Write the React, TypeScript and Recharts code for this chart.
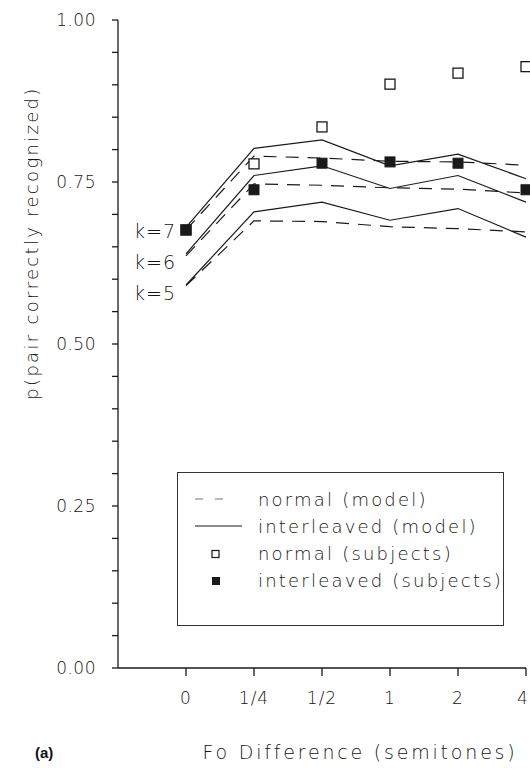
import { LineChart, Line, XAxis, YAxis, LabelList } from 'recharts';

// Fo difference categories (semitones), plotted at evenly spaced positions
const categories = ['0', '1/4', '1/2', '1', '2', '4'];

// subjects' data
const normalSubjects = [0.676, 0.778, 0.835, 0.901, 0.918, 0.928];
const interleavedSubjects = [0.676, 0.738, 0.779, 0.781, 0.779, 0.738];

// model predictions, interleaved (solid)
const interleavedK7 = [0.68, 0.802, 0.815, 0.775, 0.793, 0.755];
const interleavedK6 = [0.639, 0.76, 0.775, 0.74, 0.76, 0.719];
const interleavedK5 = [0.591, 0.704, 0.719, 0.691, 0.709, 0.665];

// model predictions, normal (dashed)
const normalK7 = [0.676, 0.79, 0.787, 0.782, 0.781, 0.776];
const normalK6 = [0.636, 0.747, 0.745, 0.741, 0.739, 0.733];
const normalK5 = [0.59, 0.69, 0.689, 0.681, 0.678, 0.673];

const yTicks = [0, 0.05, 0.1, 0.15, 0.2, 0.25, 0.3, 0.35, 0.4, 0.45, 0.5, 0.55, 0.6, 0.65, 0.7, 0.75, 0.8, 0.85, 0.9, 0.95, 1];
const yLabelTicks = [0, 0.25, 0.5, 0.75, 1];

const data = categories.map((c, i) => ({
  x: i,
  normS: normalSubjects[i],
  intS: interleavedSubjects[i],
  iK7: interleavedK7[i],
  iK6: interleavedK6[i],
  iK5: interleavedK5[i],
  nK7: normalK7[i],
  nK6: normalK6[i],
  nK5: normalK5[i],
}));

const FONT = '"DejaVu Sans", sans-serif';
const INK = '#1a1a1a';
const TEXT = '#151515';

function YTick(props: any) {
  const { x, y, payload } = props;
  const v = payload.value;
  if (!yLabelTicks.some((t) => Math.abs(t - v) < 1e-6)) return null;
  return (
    <text x={x - 14} y={y} textAnchor="end" dominantBaseline="central"
      fontFamily={FONT} fontWeight={300} fontSize={17} fill={TEXT} letterSpacing={0.5}>
      {v.toFixed(2)}
    </text>
  );
}

function XTick(props: any) {
  const { x, y, payload } = props;
  // last label sits against the right edge, nudge it in a little
  const last = payload.value === categories.length - 1;
  return (
    <text x={last ? x - 3 : x} y={y + 20} textAnchor="middle" dominantBaseline="central"
      fontFamily={FONT} fontWeight={300} fontSize={17} fill={TEXT} letterSpacing={1}>
      {categories[payload.value]}
    </text>
  );
}

const openSquare = (p: any) => (
  <rect x={p.cx - 5} y={p.cy - 5} width={10} height={10} fill="#fff" stroke={INK} strokeWidth={1.3} />
);
const filledSquare = (p: any) => (
  <rect x={p.cx - 5} y={p.cy - 5} width={10} height={10} fill={INK} stroke={INK} strokeWidth={1} />
);

const kLabel = (text: string, dy: number) => (p: any) =>
  p.index === 0 ? (
    <text x={p.x - 10} y={p.y + dy} textAnchor="end" dominantBaseline="central"
      fontFamily={FONT} fontWeight={300} fontSize={19} fill={TEXT} letterSpacing={1}>
      {text}
    </text>
  ) : null;

const legendRows = [
  { label: 'normal (model)', kind: 'dash' },
  { label: 'interleaved (model)', kind: 'solid' },
  { label: 'normal (subjects)', kind: 'open' },
  { label: 'interleaved (subjects)', kind: 'filled' },
];

function LegendSymbol({ kind }: { kind: string }) {
  return (
    <svg width={50} height={14} style={{ display: 'block' }}>
      {kind === 'dash' && (
        <line x1={0} y1={7} x2={34} y2={7} stroke="#777" strokeWidth={1.2} strokeDasharray="8 12" />
      )}
      {kind === 'solid' && <line x1={0} y1={7} x2={47} y2={7} stroke={INK} strokeWidth={1.2} />}
      {kind === 'open' && <rect x={17} y={3.5} width={7} height={7} fill="#fff" stroke={INK} strokeWidth={1.2} />}
      {kind === 'filled' && <rect x={17} y={3} width={8} height={8} fill={INK} />}
    </svg>
  );
}

export default function App() {
  return (
    <div style={{ position: 'absolute', left: 0, top: 0, width: 530, height: 769, background: '#fff' }}>
      <LineChart width={530} height={769} data={data} margin={{ top: 20, right: 4, left: 0, bottom: 0 }}>
        <XAxis
          type="number"
          dataKey="x"
          domain={[-1, 5]}
          ticks={[0, 1, 2, 3, 4, 5]}
          height={101}
          tickSize={8}
          axisLine={{ stroke: INK, strokeWidth: 1.3 }}
          tickLine={{ stroke: INK, strokeWidth: 1.3 }}
          tick={<XTick />}
        />
        <YAxis
          type="number"
          domain={[0, 1]}
          ticks={yTicks}
          width={118}
          tickSize={6}
          interval={0}
          axisLine={{ stroke: INK, strokeWidth: 1.3 }}
          tickLine={{ stroke: INK, strokeWidth: 1.3 }}
          tick={<YTick />}
        />
        <Line dataKey="nK7" stroke={INK} strokeWidth={1.2} strokeDasharray="13 9" dot={false} isAnimationActive={false} />
        <Line dataKey="nK6" stroke={INK} strokeWidth={1.2} strokeDasharray="13 9" dot={false} isAnimationActive={false} />
        <Line dataKey="nK5" stroke={INK} strokeWidth={1.2} strokeDasharray="13 9" dot={false} isAnimationActive={false} />
        <Line dataKey="iK7" stroke={INK} strokeWidth={1.2} dot={false} isAnimationActive={false}>
          <LabelList dataKey="iK7" content={kLabel('k=7', 4)} />
        </Line>
        <Line dataKey="iK6" stroke={INK} strokeWidth={1.2} dot={false} isAnimationActive={false}>
          <LabelList dataKey="iK6" content={kLabel('k=6', 8)} />
        </Line>
        <Line dataKey="iK5" stroke={INK} strokeWidth={1.2} dot={false} isAnimationActive={false}>
          <LabelList dataKey="iK5" content={kLabel('k=5', 8)} />
        </Line>
        <Line dataKey="normS" stroke="none" dot={openSquare} activeDot={false} isAnimationActive={false} />
        <Line dataKey="intS" stroke="none" dot={filledSquare} activeDot={false} isAnimationActive={false} />
      </LineChart>

      {/* titles */}
      <svg width={530} height={769} style={{ position: 'absolute', left: 0, top: 0, pointerEvents: 'none' }}>
        <text x={38} y={243} transform="rotate(-90 38 243)" textAnchor="middle"
          fontFamily={FONT} fontWeight={300} fontSize={18} fill={TEXT} letterSpacing={2.3}>
          p(pair correctly recognized)
        </text>
        <text x={360} y={752} textAnchor="middle" dominantBaseline="central"
          fontFamily={FONT} fontWeight={300} fontSize={19} fill={TEXT} letterSpacing={2.8}>
          Fo Difference (semitones)
        </text>
        <text x={35} y={752} dominantBaseline="central"
          fontFamily='"Liberation Sans", Arial, sans-serif' fontWeight={700} fontSize={15} fill="#111">
          (a)
        </text>
      </svg>

      {/* legend */}
      <div style={{
        position: 'absolute', left: 177, top: 472, width: 327, height: 154, boxSizing: 'border-box',
        border: '1.5px solid #333', background: '#fff',
      }}>
        {legendRows.map((r, i) => (
          <div key={r.label} style={{
            position: 'absolute', left: 17, top: 16 + i * 27.3, height: 20,
            display: 'flex', alignItems: 'center', gap: 30,
          }}>
            <LegendSymbol kind={r.kind} />
            <span style={{ fontFamily: FONT, fontWeight: 300, fontSize: 18, color: TEXT, letterSpacing: 2.2, whiteSpace: 'nowrap', marginLeft: -17 }}>
              {r.label}
            </span>
          </div>
        ))}
      </div>
    </div>
  );
}
